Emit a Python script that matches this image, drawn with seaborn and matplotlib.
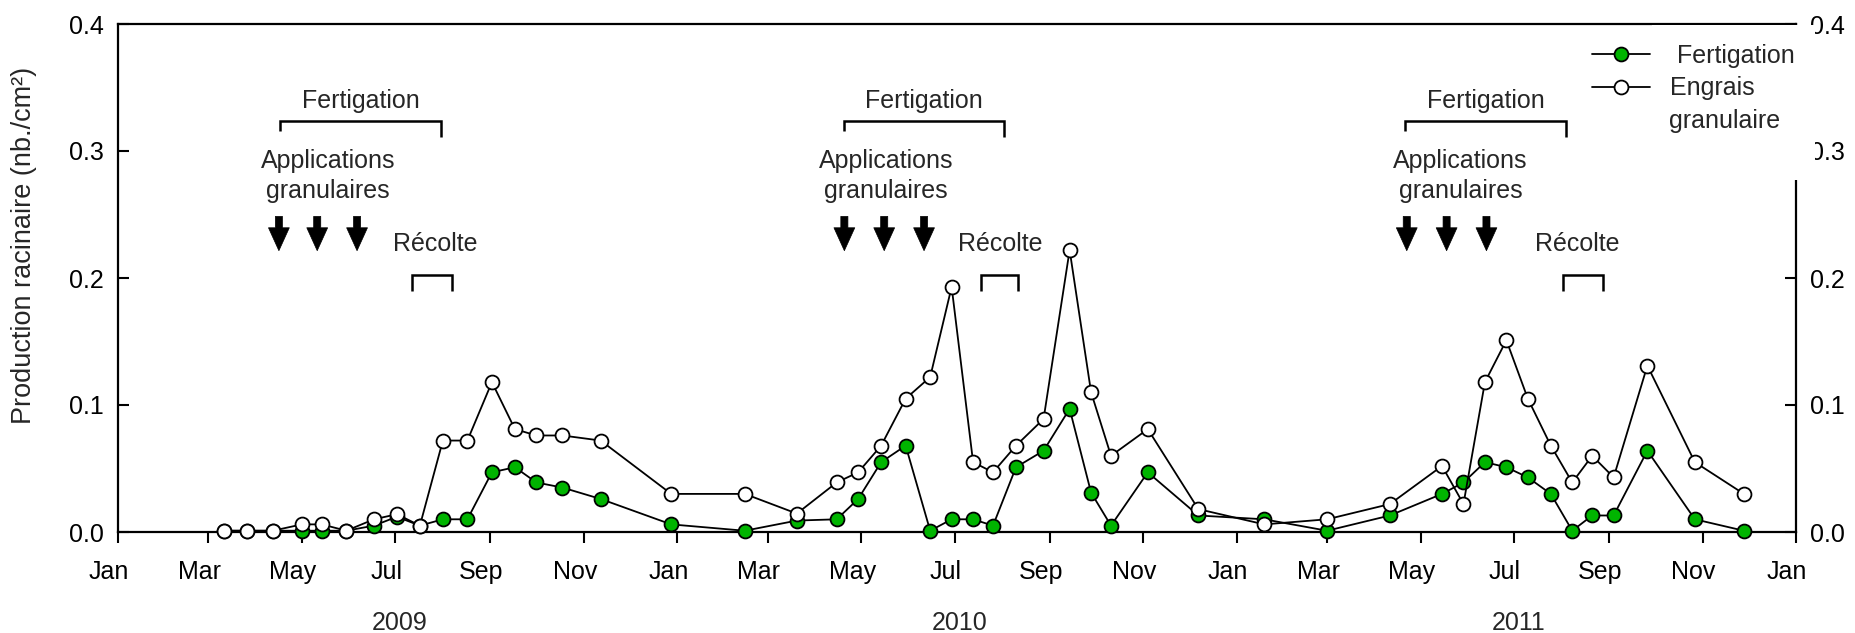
import matplotlib
matplotlib.use("Agg")
import matplotlib.pyplot as plt
import matplotlib.dates as mdates
from matplotlib.lines import Line2D
from matplotlib.patches import Rectangle
from matplotlib.transforms import ScaledTranslation
from matplotlib.ticker import FormatStrFormatter
import numpy as np
import pandas as pd
import seaborn as sns

# Sampling dates (2009-2011)
dates = [
    '2009-03-11', '2009-03-26', '2009-04-12', '2009-05-01', '2009-05-14', '2009-05-30',
    '2009-06-17', '2009-07-02', '2009-07-17', '2009-08-01', '2009-08-17', '2009-09-02',
    '2009-09-17', '2009-10-01', '2009-10-18', '2009-11-12', '2009-12-28',
    '2010-02-14', '2010-03-20', '2010-04-15', '2010-04-29', '2010-05-14', '2010-05-30',
    '2010-06-15', '2010-06-29', '2010-07-13', '2010-07-26', '2010-08-10', '2010-08-28',
    '2010-09-14', '2010-09-28', '2010-10-11', '2010-11-04', '2010-12-07',
    '2011-01-19', '2011-03-01', '2011-04-11', '2011-05-15', '2011-05-29', '2011-06-12',
    '2011-06-26', '2011-07-10', '2011-07-25', '2011-08-08', '2011-08-21', '2011-09-04',
    '2011-09-26', '2011-10-27', '2011-11-28',
]

# Root production (nb./cm2)
fertigation = [
    0.001, 0.001, 0.001, 0.001, 0.001, 0.001, 0.005, 0.012, 0.005, 0.010, 0.010, 0.047,
    0.051, 0.039, 0.035, 0.026, 0.006,
    0.001, 0.009, 0.010, 0.026, 0.055, 0.068, 0.001, 0.010, 0.010, 0.005, 0.051, 0.064,
    0.097, 0.031, 0.005, 0.047, 0.013,
    0.010, 0.001, 0.013, 0.030, 0.039, 0.055, 0.051, 0.043, 0.030, 0.001, 0.013, 0.013,
    0.064, 0.010, 0.001,
]
engrais = [
    0.001, 0.001, 0.001, 0.006, 0.006, 0.001, 0.010, 0.014, 0.005, 0.072, 0.072, 0.118,
    0.081, 0.076, 0.076, 0.072, 0.030,
    0.030, 0.0145, 0.039, 0.047, 0.068, 0.105, 0.122, 0.193, 0.055, 0.047, 0.068, 0.089,
    0.222, 0.110, 0.060, 0.081, 0.018,
    0.006, 0.010, 0.022, 0.052, 0.022, 0.118, 0.151, 0.105, 0.068, 0.039, 0.060, 0.043,
    0.131, 0.055, 0.030,
]

# Management events per season
fert_periods = [('2009-04-17', '2009-07-31'), ('2010-04-20', '2010-08-02'), ('2011-04-21', '2011-08-04')]
granular_apps = [['2009-04-16', '2009-05-11', '2009-06-06'],
                 ['2010-04-20', '2010-05-16', '2010-06-11'],
                 ['2011-04-22', '2011-05-18', '2011-06-13']]
granular_text = ['2009-05-18', '2010-05-17', '2011-05-27']
harvests = [('2009-07-12', '2009-08-07'), ('2010-07-18', '2010-08-11'), ('2011-08-02', '2011-08-28')]
harvest_text = ['2009-07-27', '2010-07-31', '2011-08-11']
years = [2009, 2010, 2011]

x_ticks = pd.date_range('2009-01-01', '2012-01-01', freq='2MS')
y_ticks = [0.0, 0.1, 0.2, 0.3, 0.4]

GREEN = '#00b400'
FS = 18
FS_ANN = 18
FS_YLAB = 19.5

sns.set_theme(style='ticks')
plt.rcParams['font.family'] = ['Liberation Sans', 'DejaVu Sans']
plt.rcParams['axes.linewidth'] = 1.6

df = pd.DataFrame({'date': pd.to_datetime(dates), 'fert': fertigation, 'engr': engrais})

fig = plt.figure(figsize=(18.55, 6.33), dpi=100)
ax = fig.add_axes([118 / 1855, 1 - 532 / 633, (1796 - 118) / 1855, (532 - 24) / 633])

sns.lineplot(data=df, x='date', y='fert', ax=ax, color='black', lw=1.3, marker='o',
             markersize=10, markerfacecolor=GREEN, markeredgecolor='black',
             markeredgewidth=1.3, clip_on=False, zorder=4, errorbar=None, legend=False)
sns.lineplot(data=df, x='date', y='engr', ax=ax, color='black', lw=1.3, marker='o',
             markersize=10, markerfacecolor='white', markeredgecolor='black',
             markeredgewidth=1.3, clip_on=False, zorder=5, errorbar=None, legend=False)

d = lambda s: mdates.date2num(pd.Timestamp(s))

# Fertigation brackets, granular application arrows and harvest brackets
for (s, e), apps, at, (hs, he), ht in zip(fert_periods, granular_apps, granular_text,
                                          harvests, harvest_text):
    ax.plot([d(s), d(s), d(e), d(e)], [0.316, 0.3236, 0.3236, 0.311], color='black',
            lw=1.8, solid_joinstyle='miter', solid_capstyle='butt')
    ax.text((d(s) + d(e)) / 2, 0.334, 'Fertigation', ha='center', va='baseline', fontsize=FS_ANN)
    ax.text(d(at), 0.287, 'Applications', ha='center', va='baseline', fontsize=FS_ANN)
    ax.text(d(at), 0.263, 'granulaires', ha='center', va='baseline', fontsize=FS_ANN)
    for a in apps:
        ax.annotate('', xy=(d(a), 0.2215), xytext=(d(a), 0.2485),
                    arrowprops=dict(arrowstyle='simple,head_length=0.55,head_width=0.5,tail_width=0.17',
                                    mutation_scale=30, fc='black', ec='black', lw=0.5,
                                    shrinkA=0, shrinkB=0))
    ax.plot([d(hs), d(hs), d(he), d(he)], [0.190, 0.2024, 0.2024, 0.190], color='black',
            lw=1.8, solid_joinstyle='miter', solid_capstyle='butt')
    ax.text(d(ht), 0.2215, 'Récolte', ha='center', va='baseline', fontsize=FS_ANN)

ax.set_xlim(d('2009-01-01'), d('2012-01-01'))
ax.set_ylim(0, 0.4)
ax.set_xticks([mdates.date2num(t) for t in x_ticks])
ax.xaxis.set_major_formatter(mdates.DateFormatter('%b'))
ax.set_yticks(y_ticks)
ax.yaxis.set_major_formatter(FormatStrFormatter('%.1f'))
ax.set_xlabel('')
ax.set_ylabel('Production racinaire (nb./cm²)', fontsize=FS_YLAB)
ax.yaxis.set_label_coords(-0.048, 0.565)

for sp in ax.spines.values():
    sp.set_visible(True)
    sp.set_color('black')
    sp.set_linewidth(1.6)

ax.tick_params(axis='y', direction='in', length=8, width=1.5, pad=10, labelsize=FS,
               right=True, labelright=True, colors='black')
ax.tick_params(axis='x', direction='out', length=8, width=1.5, pad=12, labelsize=FS,
               top=False, colors='black')
shift = ScaledTranslation(-0.09, 0, fig.dpi_scale_trans)
for lbl in ax.get_xticklabels():
    lbl.set_transform(lbl.get_transform() + shift)

# Year labels under the month ticks
for y in years:
    ax.text(d(f'{y}-07-04'), -0.193, str(y), transform=ax.get_xaxis_transform(),
            ha='center', va='baseline', fontsize=FS)

# Legend panel over the upper right corner
ax.add_patch(Rectangle((1652 / 1855, 1 - 180 / 633), (1815 - 1652) / 1855, (180 - 25) / 633,
                       transform=fig.transFigure, facecolor='white', edgecolor='none',
                       clip_on=False, zorder=6))
handles = [
    Line2D([], [], color='black', lw=1.3, marker='o', markersize=10, markerfacecolor=GREEN,
           markeredgecolor='black', markeredgewidth=1.3),
    Line2D([], [], color='black', lw=1.3, marker='o', markersize=10, markerfacecolor='white',
           markeredgecolor='black', markeredgewidth=1.3),
    Line2D([], [], linestyle='none'),
]
leg = ax.legend(handles, [' Fertigation', 'Engrais', 'granulaire'], loc='upper left',
                bbox_to_anchor=(1592 / 1855, 1 - 44 / 633), bbox_transform=fig.transFigure,
                frameon=False, fontsize=FS, handlelength=2.3, handletextpad=0.8,
                borderaxespad=0, borderpad=0, labelspacing=0.34)
leg.set_zorder(7)

fig.savefig('out.png', dpi=100, facecolor='white')
